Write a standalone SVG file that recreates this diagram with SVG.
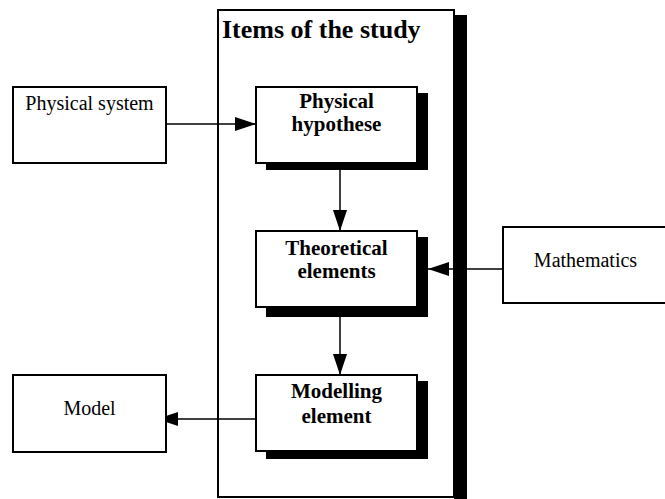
<svg xmlns="http://www.w3.org/2000/svg" width="665" height="499" viewBox="0 0 665 499">
  <style>
    .box { fill: #ffffff; stroke: #000000; stroke-width: 2; }
    .shadow { fill: #000000; stroke: none; }
    .link { fill: none; stroke: #000000; stroke-width: 1.5; marker-end: url(#head); }
    .bold { font-family: "Liberation Serif", "Times New Roman", serif; font-weight: bold; font-size: 21px; fill: #000000; text-anchor: middle; }
    .plain { font-family: "Liberation Serif", "Times New Roman", serif; font-size: 20px; fill: #000000; text-anchor: middle; }
    .title { font-family: "Liberation Serif", "Times New Roman", serif; font-weight: bold; font-size: 26px; fill: #000000; }
  </style>
  <defs>
    <marker id="head" markerUnits="userSpaceOnUse" markerWidth="22" markerHeight="14" refX="21" refY="7" orient="auto">
      <path d="M0,0 L21,7 L0,14 z" fill="#000000"/>
    </marker>
  </defs>

  <rect width="665" height="499" fill="#ffffff"/>

  <!-- container frame -->
  <g id="study">
    <rect class="shadow" x="454" y="15" width="13" height="490"/>
    <rect class="box" x="218" y="10" width="236" height="487"/>
    <text class="title" x="222" y="38">Items of the study</text>
  </g>

  <!-- connectors -->
  <g id="connectors">
    <line class="link" x1="166" y1="124" x2="256" y2="124"/>
    <line class="link" x1="340" y1="163" x2="340" y2="231"/>
    <line class="link" x1="340" y1="307" x2="340" y2="375"/>
    <line class="link" x1="503" y1="269" x2="428" y2="269"/>
    <line class="link" x1="256" y1="419" x2="157" y2="419"/>
  </g>
  <!-- frame shadow sits over the crossing line -->
  <rect class="shadow" x="454" y="15" width="13" height="490"/>

  <g id="physical-system">
    <rect class="box" x="13" y="87" width="153" height="76"/>
    <text class="plain" x="89.5" y="110">Physical system</text>
  </g>

  <g id="physical-hypothese">
    <rect class="shadow" x="266" y="93" width="162" height="77"/>
    <rect class="box" x="256" y="87" width="161" height="76"/>
    <text class="bold" x="336.5" y="108">Physical</text>
    <text class="bold" x="336.5" y="131">hypothese</text>
  </g>

  <g id="theoretical-elements">
    <rect class="shadow" x="266" y="237" width="162" height="80"/>
    <rect class="box" x="256" y="231" width="161" height="76"/>
    <text class="bold" x="336.5" y="255">Theoretical</text>
    <text class="bold" x="336.5" y="278">elements</text>
  </g>

  <g id="mathematics">
    <rect class="box" x="503" y="227" width="170" height="76"/>
    <text class="plain" x="585.5" y="267">Mathematics</text>
  </g>

  <g id="modelling-element">
    <rect class="shadow" x="266" y="381" width="162" height="78"/>
    <rect class="box" x="256" y="375" width="161" height="76"/>
    <text class="bold" x="336.5" y="398">Modelling</text>
    <text class="bold" x="336.5" y="423">element</text>
  </g>

  <g id="model">
    <rect class="box" x="13" y="375" width="153" height="77"/>
    <text class="plain" x="89.5" y="415">Model</text>
  </g>
</svg>
